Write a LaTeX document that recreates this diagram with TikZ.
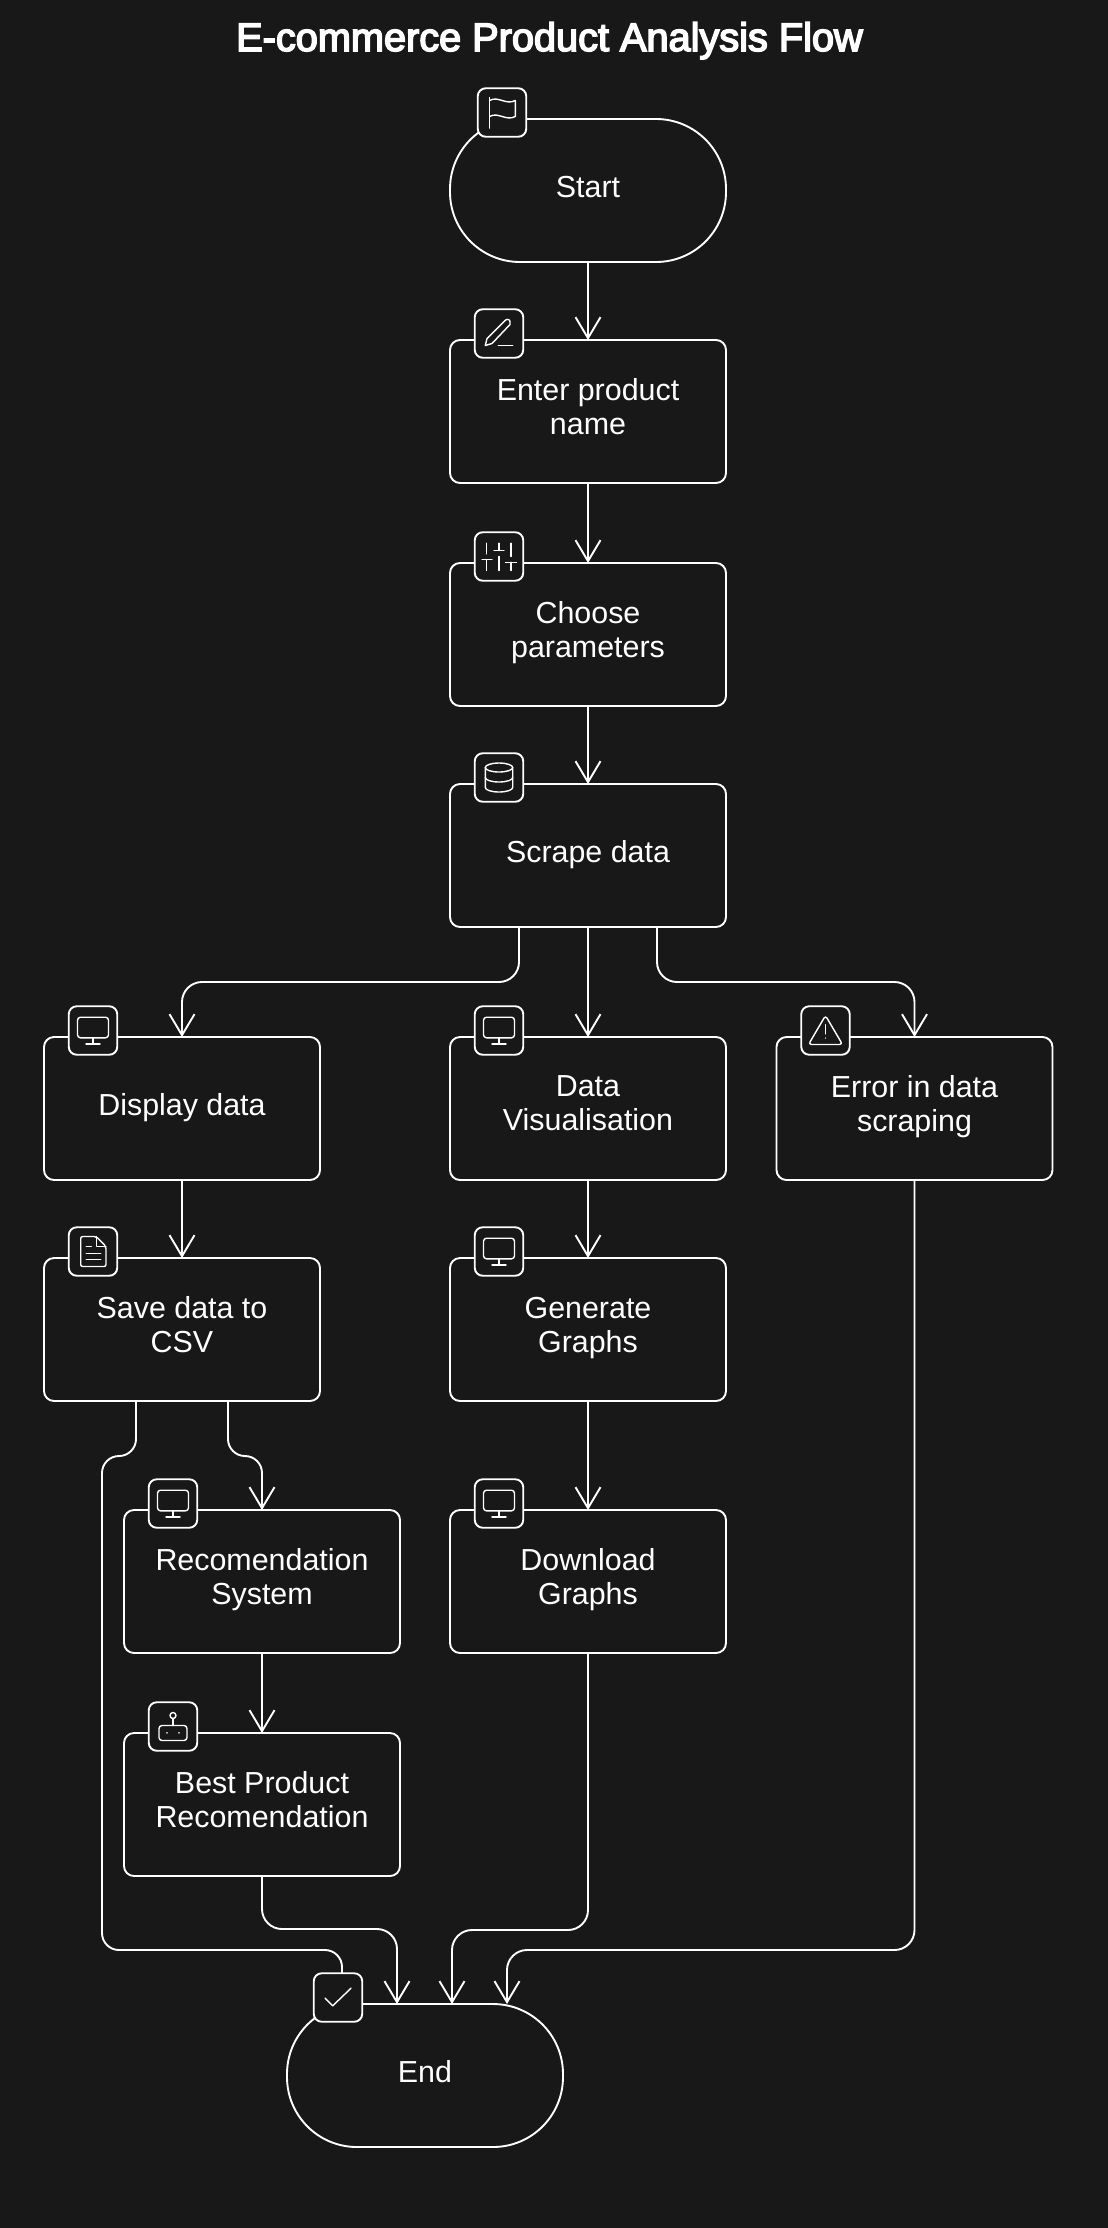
\documentclass[tikz,border=0pt]{standalone}
\usepackage{fontspec}
\setmainfont{Liberation Sans}
\newfontfamily\titlefont[FakeBold=4]{Liberation Sans}
\usetikzlibrary{calc,arrows.meta}

\definecolor{panel}{HTML}{181818}

\tikzset{
   flowbox/.style={draw=white, fill=panel, text=white, line width=1.9pt, rounded corners=10pt,
      minimum width=276pt, minimum height=143pt, inner sep=0pt, outer sep=0pt, align=center,
      font=\fontsize{30.4}{34}\selectfont, execute at begin node=\strut, execute at end node=\strut},
   terminal/.style={flowbox, rounded corners=70pt},
   iconbox/.style={draw=white, fill=panel, line width=1.9pt, rounded corners=8pt,
      minimum size=48.5pt, inner sep=0pt, outer sep=0pt},
   flowline/.style={draw=white, line width=1.9pt, rounded corners=20pt,
      -{Straight Barb[length=21pt,width=25pt]}},
   glyph/.style={draw=white, line width=1.4pt, line cap=round, line join=round},
   flagglyph/.pic={
      \draw[glyph] (-12.3,15.6) -- (-12.3,-15);
      \draw[glyph] (-12.3,-12) .. controls (-4,-17) and (4,-7) .. (13.3,-12) -- (13.3,4)
         .. controls (4,9) and (-4,-1) .. (-12.3,4);
   },
   pencilglyph/.pic={
      \draw[glyph] (-13.7,12) -- (-12,5) -- (6,-13) .. controls (8,-15) and (12,-15) .. (11,-9)
         -- (-7,10) -- cycle;
      \draw[glyph] (-0.7,11.7) -- (13.7,11.7);
   },
   sliderglyph/.pic={
      \draw[glyph] (-12.3,-13.3) -- (-12.3,-2.7) (-17,3) -- (-7,3) (-12.3,3) -- (-12.3,14);
      \draw[glyph] (0,-13.3) -- (0,-6) (-5,-6) -- (5,-6) (0,0) -- (0,14);
      \draw[glyph] (12,-13.3) -- (12,0) (6.5,5.7) -- (17.5,5.7) (12,5.7) -- (12,14);
   },
   dbglyph/.pic={
      \draw[glyph] (0,-10) ellipse (13.7pt and 4.5pt);
      \draw[glyph] (-13.7,-10) -- (-13.7,10) arc (180:360:13.7pt and 4.5pt) -- (13.7,-10);
      \draw[glyph] (-13.7,0) arc (180:360:13.7pt and 4.5pt);
   },
   screenglyph/.pic={
      \draw[glyph, rounded corners=3pt] (-15.5,-13.3) rectangle (15.5,7.3);
      \draw[glyph] (0,7.3) -- (0,13.3) (-7,13.3) -- (7,13.3);
   },
   docglyph/.pic={
      \draw[glyph, rounded corners=2pt] (3.3,-15) -- (-12.3,-15) -- (-12.3,15) -- (13,15) -- (13,-5) -- cycle;
      \draw[glyph] (3.3,-15) -- (3.3,-5) -- (13,-5);
      \draw[glyph] (-6.7,-5) -- (-1.7,-5) (-6.7,1.7) -- (7.7,1.7) (-6.7,7.7) -- (7.7,7.7);
   },
   warnglyph/.pic={
      \draw[glyph, rounded corners=3pt] (0,-15) -- (-17,14) -- (17,14) -- cycle;
      \draw[glyph] (0,-5.7) -- (0,3.3) (0,7.5) -- (0,7.6);
   },
   botglyph/.pic={
      \draw[glyph, rounded corners=3pt] (-14,-1) rectangle (14,14);
      \draw[glyph] (0,-11) circle (3pt);
      \draw[glyph] (0,-8) -- (0,-1) (-6,6.3) -- (-6,6.4) (6,6.3) -- (6,6.4);
   },
   checkglyph/.pic={
      \draw[glyph] (-13,0.7) -- (-5.3,8.3) -- (13,-9.3);
   }
}

\begin{document}
\begin{tikzpicture}[x=1pt, y=-1pt]
   \fill[panel] (0,0) rectangle (1108,2228);
   \useasboundingbox (0,0) rectangle (1108,2228);

   \node[anchor=base, text=white, font=\titlefont\fontsize{39.7}{44}\selectfont] (title) at (549.5,51) {E-commerce Product Analysis Flow};

   % boxes
   \node[terminal] (start) at (588,190.5) {Start};
   \node[flowbox] (enter) at (588,411.5) {Enter product\\name};
   \node[flowbox] (choose) at (588,634.5) {Choose\\parameters};
   \node[flowbox] (scrape) at (588,855.5) {Scrape data};
   \node[flowbox] (display) at (182,1108.5) {Display data};
   \node[flowbox] (visual) at (588,1108.5) {Data\\Visualisation};
   \node[flowbox] (error) at (914.5,1108.5) {Error in data\\scraping};
   \node[flowbox] (savecsv) at (182,1329.5) {Save data to\\CSV};
   \node[flowbox] (graphs) at (588,1329.5) {Generate\\Graphs};
   \node[flowbox] (recsys) at (262,1581.5) {Recomendation\\System};
   \node[flowbox] (download) at (588,1581.5) {Download\\Graphs};
   \node[flowbox] (best) at (262,1804.5) {Best Product\\Recomendation};
   \node[terminal] (finish) at (425,2075.5) {End};

   \coordinate (laneleft) at (102,1950);
   \coordinate (laneright) at (914.5,1950);

   % connectors
   \draw[flowline] (start) -- (enter);
   \draw[flowline] (enter) -- (choose);
   \draw[flowline] (choose) -- (scrape);
   \draw[flowline] ($(scrape.south)+(-69,0)$) -- ++(0,55) -| (display.north);
   \draw[flowline] (scrape) -- (visual);
   \draw[flowline] ($(scrape.south)+(69,0)$) -- ++(0,55) -| (error.north);
   \draw[flowline] (display) -- (savecsv);
   \draw[flowline] (visual) -- (graphs);
   \draw[flowline] (graphs) -- (download);
   \draw[flowline] (recsys) -- (best);
   \draw[flowline, rounded corners=17pt] ($(savecsv.south)+(46,0)$) -- ++(0,55) -| (recsys.north);
   \draw[flowline, rounded corners=17pt] ($(savecsv.south)+(-46,0)$) -- ++(0,55) -| (laneleft) -| ($(finish.north)+(-83,0)$);
   \draw[flowline] (best.south) -- ++(0,53) -| ($(finish.north)+(-28,0)$);
   \draw[flowline] (download.south) -- ++(0,277) -| ($(finish.north)+(27,0)$);
   \draw[flowline] (error.south) -- (laneright) -| ($(finish.north)+(82,0)$);

   % icon badges
   \node[iconbox] (flagbadge) at ($(start.north west)+(52,-6.5)$) {};
   \pic at (flagbadge) {flagglyph};
   \node[iconbox] (enterbadge) at ($(enter.north west)+(49,-6.5)$) {};
   \pic at (enterbadge) {pencilglyph};
   \node[iconbox] (choosebadge) at ($(choose.north west)+(49,-6.5)$) {};
   \pic at (choosebadge) {sliderglyph};
   \node[iconbox] (scrapebadge) at ($(scrape.north west)+(49,-6.5)$) {};
   \pic at (scrapebadge) {dbglyph};
   \node[iconbox] (displaybadge) at ($(display.north west)+(49,-6.5)$) {};
   \pic at (displaybadge) {screenglyph};
   \node[iconbox] (visualbadge) at ($(visual.north west)+(49,-6.5)$) {};
   \pic at (visualbadge) {screenglyph};
   \node[iconbox] (errorbadge) at ($(error.north west)+(49,-6.5)$) {};
   \pic at (errorbadge) {warnglyph};
   \node[iconbox] (savebadge) at ($(savecsv.north west)+(49,-6.5)$) {};
   \pic at (savebadge) {docglyph};
   \node[iconbox] (graphsbadge) at ($(graphs.north west)+(49,-6.5)$) {};
   \pic at (graphsbadge) {screenglyph};
   \node[iconbox] (recsysbadge) at ($(recsys.north west)+(49,-6.5)$) {};
   \pic at (recsysbadge) {screenglyph};
   \node[iconbox] (downloadbadge) at ($(download.north west)+(49,-6.5)$) {};
   \pic at (downloadbadge) {screenglyph};
   \node[iconbox] (bestbadge) at ($(best.north west)+(49,-6.5)$) {};
   \pic at (bestbadge) {botglyph};
   \node[iconbox] (finishbadge) at ($(finish.north west)+(51,-6.5)$) {};
   \pic at (finishbadge) {checkglyph};
\end{tikzpicture}
\end{document}
